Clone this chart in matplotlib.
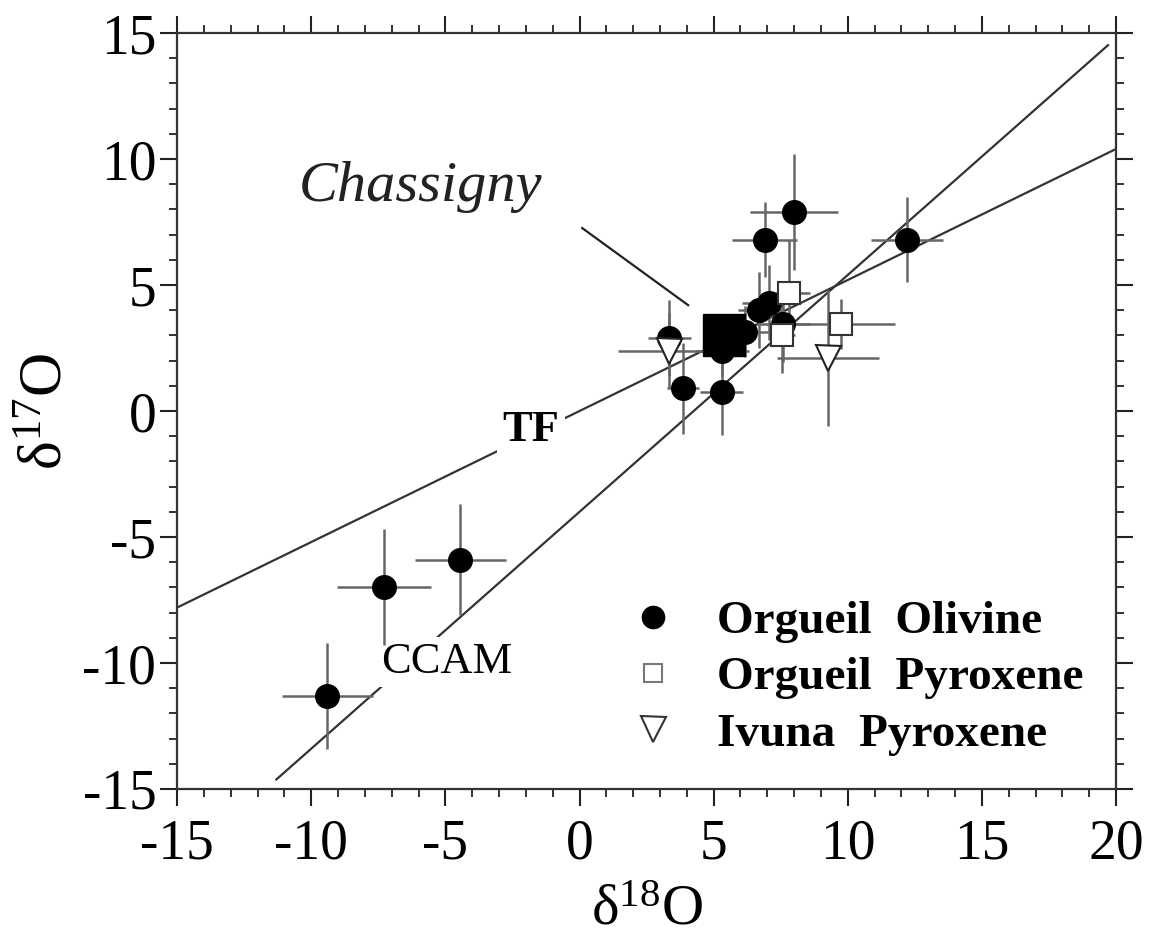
import matplotlib
matplotlib.use('Agg')
import matplotlib.pyplot as plt
import numpy as np
from matplotlib.lines import Line2D

plt.rcParams['font.family'] = 'Liberation Serif'
plt.rcParams['mathtext.fontset'] = 'custom'
plt.rcParams['mathtext.rm'] = 'Liberation Serif'
plt.rcParams['mathtext.it'] = 'Liberation Serif:italic'
plt.rcParams['axes.unicode_minus'] = False

# Orgueil olivine (filled circles)
oliv_x = [-9.4, -7.3, -4.45, 12.2, 8.0, 6.9, 6.7, 7.05, 3.35, 3.85, 5.3, 5.3, 6.15, 7.6]
oliv_y = [-11.3, -7.0, -5.9, 6.8, 7.9, 6.8, 4.0, 4.3, 2.9, 0.9, 0.75, 2.4, 3.15, 3.45]
oliv_xerr = [1.7, 1.75, 1.7, 1.35, 1.65, 1.2, 0.8, 1.0, 0.8, 0.6, 0.8, 1.0, 1.0, 1.0]
oliv_yerr = [2.1, 2.3, 2.2, 1.7, 2.3, 1.5, 1.5, 1.5, 1.5, 1.8, 1.7, 1.0, 1.0, 1.5]

# Orgueil pyroxene (open squares)
pyx_x = [7.8, 9.75, 7.55]
pyx_y = [4.7, 3.45, 3.0]
pyx_xerr = [0.8, 2.0, 0.5]
pyx_yerr = [2.1, 1.0, 1.5]

# Ivuna pyroxene (open triangles)
ivu_x = [9.25, 3.35]
ivu_y = [2.1, 2.4]
ivu_xerr = [1.9, 1.9]
ivu_yerr = [2.7, 1.5]

# Chassigny
chas_x = [5.4]
chas_y = [3.0]

# reference lines: slope, intercept, x range
tf_slope, tf_icpt = 0.52, 0.0
tf_x = [-15, 20]
ccam_slope, ccam_icpt = 0.94, -4.0
ccam_x = [-11.3, 19.7]

fig = plt.figure(figsize=(11.5, 9.49), dpi=100)
ax = fig.add_axes([0.154, 0.1686, 0.8165, 0.7966])

ecol = '#666666'

tfx = np.array(tf_x)
ax.plot(tfx, tf_slope * tfx + tf_icpt, color='#333333', lw=1.6, zorder=1)
cx = np.array(ccam_x)
ax.plot(cx, ccam_slope * cx + ccam_icpt, color='#333333', lw=1.6, zorder=1)

ax.text(-1.8, -0.75, 'TF', fontsize=32, fontweight='bold', ha='center', va='center',
        zorder=2, bbox=dict(facecolor='white', edgecolor='none', pad=4))
ax.text(-4.94, -9.96, 'CCAM', fontsize=32, ha='center', va='center',
        zorder=2, bbox=dict(facecolor='white', edgecolor='none', pad=4))

# error bars
for xs, ys, xe, ye in [(oliv_x, oliv_y, oliv_xerr, oliv_yerr),
                       (pyx_x, pyx_y, pyx_xerr, pyx_yerr),
                       (ivu_x, ivu_y, ivu_xerr, ivu_yerr)]:
    ax.errorbar(xs, ys, xerr=xe, yerr=ye, fmt='none', ecolor=ecol,
                elinewidth=1.8, capsize=0, zorder=3)

ax.plot(oliv_x, oliv_y, 'o', ms=17, color='black', zorder=4)
ax.plot(chas_x, chas_y, 's', ms=30, color='black', zorder=5)
ax.plot(pyx_x, pyx_y, 's', ms=16, mfc='white', mec='#333333', mew=1.5, zorder=6)
ax.plot(ivu_x, ivu_y, 'v', ms=18, mfc='white', mec='#222222', mew=1.5, zorder=6)

# Chassigny label with pointer
ax.text(-5.94, 8.9, 'Chassigny', fontsize=42, style='italic', ha='center',
        va='center', color='#222222')
ax.plot([0.1, 4.05], [7.26, 4.2], color='#222222', lw=1.6, zorder=2)

ax.set_xlim(-15, 20)
ax.set_ylim(-15, 15)
ax.set_xticks(np.arange(-15, 21, 5))
ax.set_yticks(np.arange(-15, 16, 5))
ax.set_xticks(np.arange(-15, 21, 1), minor=True)
ax.set_yticks(np.arange(-15, 16, 1), minor=True)
ax.tick_params(which='both', direction='out', top=True, right=True,
               labeltop=False, labelright=False, color='#222222')
ax.tick_params(which='major', length=12, width=1.5, labelsize=40)
ax.tick_params(axis='x', which='major', pad=9)
ax.tick_params(axis='y', which='major', pad=3)
ax.tick_params(which='minor', length=6, width=1.3)
for s in ax.spines.values():
    s.set_linewidth(1.6)
    s.set_color('#333333')

ax.set_xlabel(r'$\mathrm{δ}^{18}$O', fontsize=42, labelpad=10)
ax.set_ylabel(r'$\mathrm{δ}^{17}$O', fontsize=44, labelpad=6)

handles = [
    Line2D([], [], ls='none', marker='o', ms=16, color='black'),
    Line2D([], [], ls='none', marker='s', ms=13, mfc='white', mec='#777777', mew=1.5),
    Line2D([], [], ls='none', marker='v', ms=18, mfc='white', mec='#333333', mew=1.5),
]
labels = ['Orgueil  Olivine', 'Orgueil  Pyroxene', 'Ivuna  Pyroxene']
ax.legend(handles, labels, loc='upper left', bbox_to_anchor=(0.482, 0.250),
          frameon=False, borderaxespad=0, borderpad=0, handlelength=1.0,
          handletextpad=0.85, labelspacing=0.28,
          prop={'family': 'Liberation Serif', 'weight': 'bold', 'size': 34})

fig.savefig('out.png', dpi=100)
